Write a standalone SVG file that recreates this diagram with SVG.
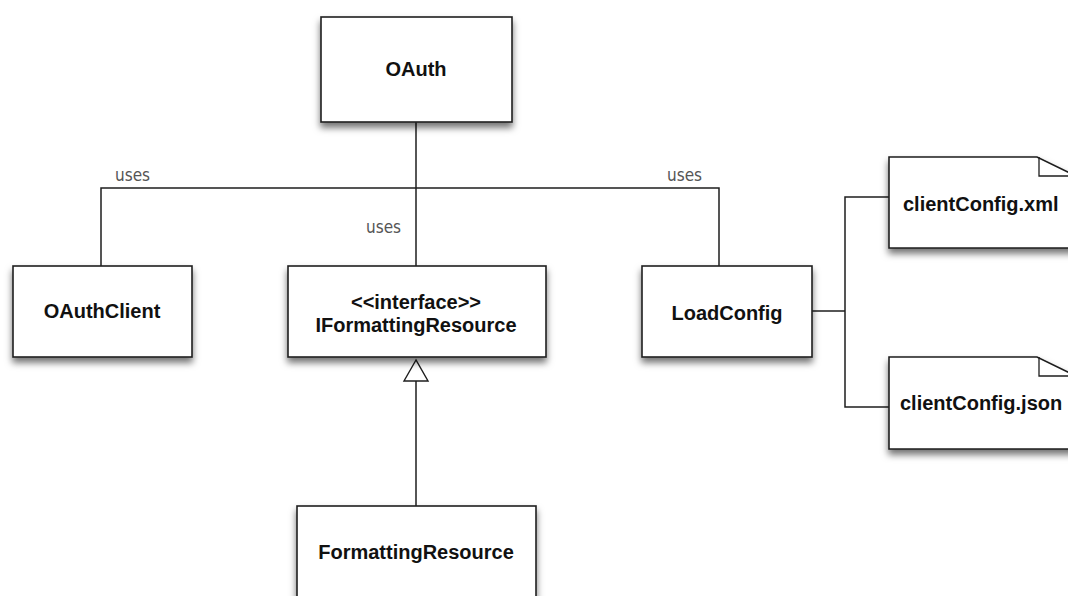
<svg xmlns="http://www.w3.org/2000/svg" width="1068" height="596" viewBox="0 0 1068 596">
<defs>
<filter id="sh" x="-20%" y="-20%" width="140%" height="150%">
<feDropShadow dx="0" dy="5" stdDeviation="3.5" flood-color="#000" flood-opacity="0.55"/>
</filter>
<style>
.box{fill:#fff;stroke:#1e1e1e;stroke-width:1.6;filter:url(#sh)}
.lbl{font-family:"Liberation Sans",Arial,sans-serif;font-weight:bold;font-size:20px;fill:#111;text-anchor:middle}
.lbl.l{text-anchor:start}
.uses{font-family:"DejaVu Sans Condensed","DejaVu Sans","Liberation Sans",sans-serif;font-size:17px;fill:#555}
.ln{fill:none;stroke:#1e1e1e;stroke-width:1.5}
.fold{fill:none;stroke:#1e1e1e;stroke-width:1.3}
</style>
</defs>
<rect width="1068" height="596" fill="#fff"/>
<g id="connectors">
<path class="ln" d="M416,122 V266"/>
<path class="ln" d="M101,266 V188 H719 V266"/>
<path class="ln" d="M416,506 V381"/>
<polygon points="416,360 404,381 428,381" fill="#fff" stroke="#1e1e1e" stroke-width="1.4"/>
<path class="ln" d="M812,311 H845" stroke="#555"/>
<path class="ln" d="M889,197 H845 V407 H889"/>
<text class="uses" x="115" y="181">uses</text>
<text class="uses" x="366" y="233">uses</text>
<text class="uses" x="667" y="181">uses</text>
</g>
<g id="oauth">
<rect class="box" x="321" y="17" width="191" height="105"/>
<text class="lbl" x="416" y="76">OAuth</text>
</g>
<g id="oauthclient">
<rect class="box" x="13" y="266" width="179" height="91"/>
<text class="lbl" x="102" y="318">OAuthClient</text>
</g>
<g id="iformattingresource">
<rect class="box" x="288" y="266" width="258" height="91"/>
<text class="lbl" x="416" y="309">&lt;&lt;interface&gt;&gt;</text>
<text class="lbl" x="416" y="332">IFormattingResource</text>
</g>
<g id="loadconfig">
<rect class="box" x="642" y="266" width="170" height="91"/>
<text class="lbl" x="727" y="320">LoadConfig</text>
</g>
<g id="formattingresource">
<rect class="box" x="297" y="506" width="239" height="110"/>
<text class="lbl" x="416" y="559">FormattingResource</text>
</g>
<g id="clientconfig-xml">
<path class="box" d="M889,157 H1037 L1076,176 V248 H889 Z"/>
<path class="fold" d="M1039,157 V176 H1076"/>
<text class="lbl l" x="903" y="211">clientConfig.xml</text>
</g>
<g id="clientconfig-json">
<path class="box" d="M889,357 H1037 L1076,376 V449 H889 Z"/>
<path class="fold" d="M1039,357 V376 H1076"/>
<text class="lbl l" x="900" y="410">clientConfig.json</text>
</g>
</svg>
